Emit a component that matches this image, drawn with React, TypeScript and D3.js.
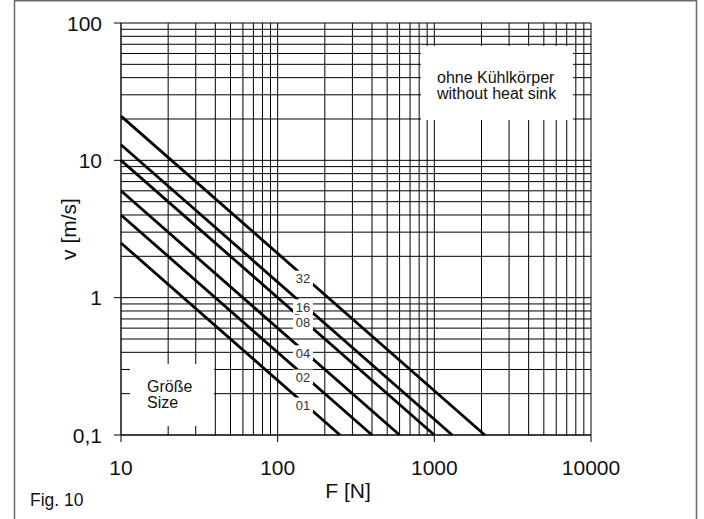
import React from "react";
import * as d3 from "d3";

// Data
const sizes = ["01", "02", "04", "08", "16", "32"];
const vAtF10 = [2.5, 4.0, 6.0, 10.0, 13.0, 21.0]; // v [m/s] at F = 10 N
const xTicks = [10, 100, 1000, 10000];
const xTickLabels = ["10", "100", "1000", "10000"];
const yTicks = [0.1, 1, 10, 100];
const yTickLabels = ["0,1", "1", "10", "100"];

const W = 704;
const H = 519;
const FONT = "'Liberation Sans', Arial, Helvetica, sans-serif";

export default function App() {
  const x = d3.scaleLog().domain([10, 10000]).range([121, 591]);
  const y = d3.scaleLog().domain([0.1, 100]).range([435, 23]);

  const gridF: number[] = [];
  for (let e = 1; e < 4; e++) for (let m = 1; m <= 9; m++) gridF.push(m * Math.pow(10, e));
  gridF.push(10000);
  const gridV: number[] = [];
  for (let e = -1; e < 2; e++) for (let m = 1; m <= 9; m++) gridV.push(+(m * Math.pow(10, e)).toPrecision(3));
  gridV.push(100);

  const labelF = x.invert(303);

  return (
    <svg
      width={W}
      height={H}
      style={{ position: "absolute", left: 0, top: 0, background: "#fff" }}
    >
      <rect x={0} y={0} width={W} height={H} fill="#fff" />
      {/* frame */}
      <path d={`M14.5,${H} V0.75 H696.5 V${H}`} fill="none" stroke="#6a6a6a" strokeWidth={1.5} />

      {/* grid */}
      <g stroke="#000" strokeWidth={1}>
        {gridF.map((f, i) => (
          <line key={"gx" + i} x1={x(f)} x2={x(f)} y1={y(100)} y2={y(0.1)} strokeWidth={f === 10 ? 1.4 : 1} />
        ))}
        {gridV.map((v, i) => (
          <line key={"gy" + i} x1={x(10)} x2={x(10000)} y1={y(v)} y2={y(v)} strokeWidth={v === 0.1 ? 1.4 : 1} />
        ))}
        {yTicks.map((v, i) => (
          <line key={"ty" + i} x1={x(10) - 7} x2={x(10)} y1={y(v)} y2={y(v)} />
        ))}
        {xTicks.map((f, i) => (
          <line key={"tx" + i} x1={x(f)} x2={x(f)} y1={y(0.1)} y2={y(0.1) + 7} />
        ))}
      </g>

      {/* white boxes */}
      <rect x={421} y={46} width={152} height={74} fill="#fff" />
      <rect x={130} y={364} width={84} height={62} fill="#fff" />

      {/* curves */}
      <g fill="none" stroke="#000" strokeWidth={2.8}>
        {vAtF10.map((v0, i) => {
          const C = v0 * 10;
          const fEnd = C / 0.1;
          const pts: [number, number][] = [
            [x(10), y(v0)],
            [x(fEnd), y(0.1)],
          ];
          return <path key={"c" + i} d={d3.line()(pts) || ""} />;
        })}
      </g>

      {/* size labels */}
      {vAtF10.map((v0, i) => {
        const C = v0 * 10;
        const cx = x(labelF);
        const cy = y(C / labelF) + 3;
        return (
          <g key={"l" + i}>
            <rect x={cx - 10} y={cy - 8} width={20} height={15} fill="#fff" />
            <text
              x={cx}
              y={cy}
              textAnchor="middle"
              dominantBaseline="central"
              fontFamily={FONT}
              fontSize={13}
              fill="#333"
            >
              {sizes[i]}
            </text>
          </g>
        );
      })}

      {/* tick labels */}
      <g fontFamily={FONT} fontSize={21} fill="#111">
        {yTicks.map((v, i) => (
          <text key={"yl" + i} x={102} y={y(v)} textAnchor="end" dominantBaseline="central">
            {yTickLabels[i]}
          </text>
        ))}
        {xTicks.map((f, i) => (
          <text key={"xl" + i} x={x(f)} y={475} textAnchor="middle">
            {xTickLabels[i]}
          </text>
        ))}
        <text x={348} y={498} textAnchor="middle">F [N]</text>
        <text transform={`translate(76,229) rotate(-90)`} textAnchor="middle">v [m/s]</text>
      </g>

      <g fontFamily={FONT} fontSize={16} fill="#111">
        <text x={437} y={83}>ohne Kühlkörper</text>
        <text x={437} y={99}>without heat sink</text>
        <text x={147} y={392}>Größe</text>
        <text x={147} y={408}>Size</text>
      </g>
      <text x={30} y={506} fontFamily={FONT} fontSize={17.5} fill="#111">Fig. 10</text>
    </svg>
  );
}
